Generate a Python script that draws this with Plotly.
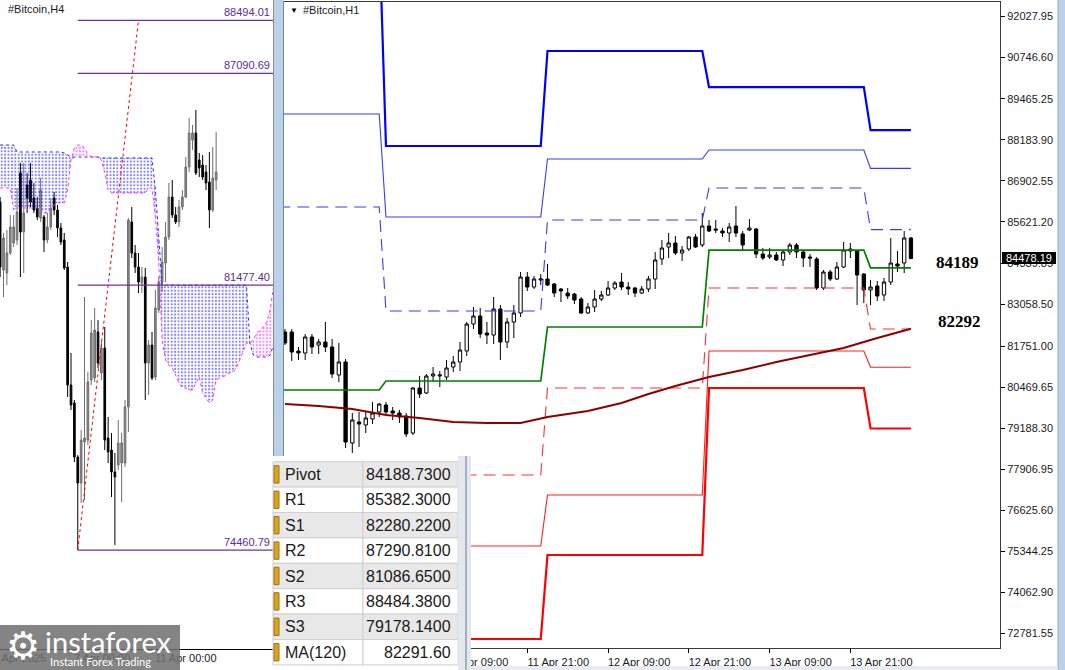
import pandas as pd
import plotly.graph_objects as go

W, H = 1065, 670


def px(x):
    return x / W


def py(y):
    return 1 - y / H


# ---------------- H4 chart (left) ----------------
h4_start = "2025-04-03 12:00"
h4_open = [83681, 81880, 81800, 82330, 82595, 82674, 84449, 82886, 84131, 84264,
           83787, 83522, 83257, 83284, 82674, 83019, 83787, 83469, 82992, 82674,
           81959, 78833, 78357, 76926, 76237, 77323, 77376, 78966, 79019, 80237,
           79151, 79813, 77429, 77111, 76529, 76714, 76767, 76767, 78251, 83151,
           82330, 81959, 81535, 81694, 79416, 79893, 79045, 80820, 81562, 82065,
           82754, 83813, 83337, 83151, 83549, 83813, 84608, 85323, 85509, 84794,
           84661, 84476, 84211, 83469, 84264]
h4_high = [83813, 82860, 82939, 83337, 83337, 84052, 84714, 84714, 84449, 84714,
           84184, 83813, 84317, 83337, 83390, 83787, 83946, 83602, 83125, 82860,
           82092, 79681, 78436, 76979, 77641, 81164, 79178, 80555, 80873, 80555,
           80025, 80370, 77986, 77562, 77032, 77906, 77562, 78436, 83257, 83549,
           82542, 82330, 81959, 81933, 80025, 80237, 81349, 81694, 82489, 83151,
           84184, 84264, 83549, 83734, 83999, 84873, 85906, 85721, 86118, 84979,
           84926, 84661, 85006, 85138, 85535]
h4_low = [81694, 81164, 81482, 82277, 82489, 82542, 81694, 81800, 83390, 83549,
          83390, 83204, 83151, 82357, 82595, 82939, 83337, 82754, 82542, 81880,
          78515, 78171, 76794, 74461, 75708, 75787, 77244, 78833, 78913, 79284,
          78966, 77111, 76767, 75866, 74595, 76582, 75734, 76661, 77588, 82198,
          81800, 81270, 81270, 78436, 78568, 78966, 78966, 80741, 81297, 81562,
          82674, 83257, 83098, 83019, 83469, 83787, 84476, 85058, 84396, 84343,
          84264, 83999, 82992, 83416, 83999]
h4_close = [81959, 82727, 82330, 83019, 83019, 83416, 82886, 83390, 83787, 83681,
            83469, 83284, 83999, 82674, 83019, 83522, 83469, 82992, 82621, 81933,
            78833, 78304, 76926, 76237, 77376, 77429, 78913, 80211, 80290, 79416,
            79813, 77376, 77059, 76529, 76396, 77297, 77297, 78251, 83204, 82330,
            81959, 81562, 81694, 79416, 79893, 79019, 80873, 81562, 82092, 82754,
            83813, 83337, 83151, 83549, 83813, 84608, 85509, 85509, 84449, 84582,
            84343, 84184, 83469, 84317, 84476]

# Ichimoku Senkou spans (shifted 26 bars ahead)
span_a = [85191, 85191, 85191, 85191, 85191,
          85006, 85006, 85006, 85006, 85006, 85006, 85006, 85006, 85006, 85006, 85006, 85006, 85006, 85006,
          84979, 84926,
          84873, 84873, 84873, 84873, 84873, 84873, 84873, 84873, 84873,
          84847, 84847, 84847, 84847, 84847, 84847, 84847, 84847, 84847, 84847, 84847, 84847, 84847, 84847, 84847, 84847,
          83999, 82595,
          81477, 81477, 81477, 81477, 81477, 81477, 81477, 81477, 81477, 81477, 81477, 81477, 81477,
          81477, 81477, 81477, 81477, 81477, 81477, 81477, 81477, 81477, 81477, 81477, 81477, 81477,
          79946, 79628, 79575, 79575, 79575, 79575, 79628, 79893]
span_b = [84052, 84052, 84052, 84052, 83469,
          83522, 83522, 83522, 83522, 83522, 83522, 83522, 83522,
          83390, 83390, 83522, 83602, 83655, 83655, 83655,
          83999, 84794, 85111, 85191, 85191, 85111, 84926, 84873, 84873, 84873,
          84794, 84449, 83999,
          83919, 83919, 83919, 83919, 83919, 83919, 83919, 83919, 83919, 83919, 83919,
          84052, 84052,
          83284, 82065, 80025, 79496, 79363, 79284, 79098, 78886, 78754, 78754,
          78701, 78701, 78886, 79045, 78621, 78489, 78357, 78436, 78966, 79019,
          79045, 79098, 79151, 79178, 79284, 79496, 79708, 79946, 79946, 80025,
          80211, 80290, 80370, 80502, 80820, 81429]

fib_levels = [88494.01, 87090.69, 81477.40, 74460.79]
fib_low_time = "2025-04-07 08:00"
fib_high_time = "2025-04-10 08:00"

h4_ticks = ["2025-04-03 00:00", "2025-04-07 00:00", "2025-04-11 00:00"]
h4_tick_text = ["3 Apr 2025", "7 Apr 00:00", "11 Apr 00:00"]

# ---------------- H1 chart (right) ----------------
h1_start = "2025-04-10 09:00"
h1_open = [82188, 82188, 81595, 81533, 82032, 81782, 81876, 81720, 80847, 81252,
           78726, 79381, 79287, 79474, 79693, 79911, 79724, 79661, 79568, 79037,
           80441, 80285, 80816, 80816, 80784, 81096, 81252, 81595, 82437, 82687,
           82157, 82094, 82905, 81876, 82500, 82781, 83903, 83591, 83810, 83841,
           83685, 83529, 83404, 83373, 83217, 82781, 82968, 83217, 83342, 83560,
           83747, 83591, 83560, 83404, 83529, 83841, 84465, 84839, 84964, 84652,
           84777, 85151, 84901, 85494, 85400, 85338, 85276, 85494, 85245, 85369,
           85400, 84621, 84527, 84590, 84434, 84683, 84901, 84683, 84527, 84465,
           83560, 84059, 83841, 84215, 84714, 84714, 83997, 83498, 83623, 83342,
           83747, 84309, 84340, 85120]
h1_high = [82281, 82281, 81720, 82126, 82126, 81970, 82500, 81970, 81845, 81346,
           79661, 79693, 79693, 80005, 79973, 80005, 79849, 79755, 79661, 80472,
           80816, 80878, 81096, 80972, 81315, 81439, 81876, 82500, 82968, 82936,
           82500, 83280, 83030, 82625, 83030, 84059, 84059, 83935, 83997, 84309,
           83716, 83560, 83560, 83404, 83280, 83092, 83498, 83467, 83779, 83779,
           84028, 83747, 83591, 83623, 83935, 84683, 85057, 85276, 85182, 84870,
           85182, 85245, 85900, 85681, 85681, 85432, 85588, 86118, 85338, 85712,
           85432, 84808, 84808, 84683, 84745, 84964, 84964, 84745, 84621, 84527,
           84122, 84122, 84371, 84995, 84964, 84745, 84028, 83810, 83779, 83872,
           85120, 84714, 85338, 85151]
h1_low = [81782, 81283, 81315, 81315, 81502, 81502, 81564, 80753, 80628, 78570,
          78414, 78601, 79037, 79318, 79537, 79599, 79443, 79350, 78913, 78975,
          80129, 80254, 80628, 80472, 80691, 80940, 80972, 81439, 82281, 82001,
          81814, 81814, 81315, 81689, 82001, 82656, 83467, 83529, 83654, 83623,
          83280, 83124, 83217, 83061, 82750, 82750, 82812, 83155, 83311, 83498,
          83498, 83342, 83280, 83373, 83436, 83529, 84278, 84496, 84590, 84402,
          84714, 84808, 84839, 85307, 85276, 85151, 84995, 85151, 84745, 85338,
          84496, 84434, 84465, 84402, 84246, 84590, 84496, 84215, 84215, 83498,
          83498, 83779, 83810, 84184, 84496, 83030, 83092, 83030, 83155, 83155,
          83654, 84059, 84028, 84496]
h1_close = [81845, 81564, 81533, 82032, 81720, 81876, 81720, 80878, 81252, 78757,
            79443, 79318, 79506, 79661, 79942, 79693, 79661, 79537, 79007, 80441,
            80254, 80816, 80878, 80847, 81065, 81252, 81626, 82437, 82687, 82126,
            82094, 82905, 81876, 82500, 82781, 83903, 83591, 83841, 83841, 83654,
            83404, 83467, 83311, 83186, 82781, 82968, 83217, 83342, 83560, 83716,
            83591, 83529, 83404, 83529, 83841, 84434, 84808, 84964, 84652, 84745,
            85151, 84839, 85494, 85338, 85369, 85276, 85463, 85276, 84901, 85432,
            84621, 84496, 84590, 84434, 84683, 84901, 84683, 84496, 84496, 83560,
            84059, 83841, 84215, 84745, 84777, 83966, 83498, 83591, 83311, 83747,
            84340, 84246, 85120, 84478.19]

# daily pivot levels
pivot_days = ["2025-04-10", "2025-04-11", "2025-04-12", "2025-04-13", "2025-04-14"]
lvl_R3 = [94695, 87990, 90953, 89829, 88484.38]
lvl_R2 = [88988, 85775, 87584, 87864, 87290.81]
lvl_R1 = [86087, 82843, 85681, 86679, 85382.30]
lvl_PP = [80379, 80660, 82344, 84745, 84188.73]
lvl_S1 = [77479, 77728, 80441, 83560, 82280.22]
lvl_S2 = [71771, 75513, 77104, 81595, 81086.65]
lvl_S3 = [68871, 72612, 75232, 80441, 79178.14]

# MA(120) read at several hours
ma_times = ["2025-04-10 09:00", "2025-04-10 14:00", "2025-04-10 19:00", "2025-04-11 00:00",
            "2025-04-11 05:00", "2025-04-11 10:00", "2025-04-11 15:00", "2025-04-11 20:00",
            "2025-04-12 00:00", "2025-04-12 06:00", "2025-04-12 11:00", "2025-04-12 15:00",
            "2025-04-12 19:00", "2025-04-13 00:00", "2025-04-13 05:00", "2025-04-13 10:00",
            "2025-04-13 15:00", "2025-04-13 20:00", "2025-04-14 01:00", "2025-04-14 06:00"]
ma_vals = [79942, 79880, 79786, 79599, 79506, 79381, 79350, 79350, 79537, 79724,
           79973, 80254, 80504, 80785, 81003, 81252, 81471, 81689, 82001, 82291.60]

h1_price_ticks = [92027.95, 90746.60, 89465.25, 88183.90, 86902.55, 85621.20, 84339.85,
                  83058.50, 81751.00, 80469.65, 79188.30, 77906.95, 76625.60, 75344.25,
                  74062.90, 72781.55]
h1_time_ticks = ["2025-04-10 09:00", "2025-04-10 21:00", "2025-04-11 09:00", "2025-04-11 21:00",
                 "2025-04-12 09:00", "2025-04-12 21:00", "2025-04-13 09:00", "2025-04-13 21:00"]
h1_time_text = ["10 Apr 09:00", "10 Apr 21:00", "11 Apr 09:00", "11 Apr 21:00",
                "12 Apr 09:00", "12 Apr 21:00", "13 Apr 09:00", "13 Apr 21:00"]

table_labels = ["Pivot", "R1", "S1", "R2", "S2", "R3", "S3", "MA(120)"]
table_values = [f"{lvl_PP[-1]:.4f}", f"{lvl_R1[-1]:.4f}", f"{lvl_S1[-1]:.4f}",
                f"{lvl_R2[-1]:.4f}", f"{lvl_S2[-1]:.4f}", f"{lvl_R3[-1]:.4f}",
                f"{lvl_S3[-1]:.4f}", f"{ma_vals[-1]:.2f}"]

# ---------------- build ----------------
h4_times = pd.date_range(h4_start, periods=len(h4_open), freq="4h")
cloud_times = pd.date_range(h4_start, periods=len(span_a), freq="4h")
h1_times = pd.date_range(h1_start, periods=len(h1_open), freq="h")

fig = go.Figure()

# Ichimoku cloud
cloud_low = [min(a, b) for a, b in zip(span_a, span_b)]
for upper, col in ((span_a, "#0000ff"), (span_b, "#ff00ff")):
    fig.add_trace(go.Scatter(x=cloud_times, y=cloud_low, mode="lines", line=dict(width=0),
                             xaxis="x", yaxis="y", hoverinfo="skip", showlegend=False))
    fig.add_trace(go.Scatter(x=cloud_times, y=upper, mode="lines", line=dict(width=0),
                             fill="tonexty", fillcolor="rgba(0,0,0,0)",
                             fillpattern=dict(shape=".", fgcolor=col, bgcolor="rgba(0,0,0,0)",
                                              size=3.4, solidity=0.3),
                             xaxis="x", yaxis="y", hoverinfo="skip", showlegend=False))
fig.add_trace(go.Scatter(x=cloud_times, y=span_a, mode="lines",
                         line=dict(color="#2a2aff", width=1, dash="dot"),
                         xaxis="x", yaxis="y", showlegend=False))
fig.add_trace(go.Scatter(x=cloud_times, y=span_b, mode="lines",
                         line=dict(color="#ff33ff", width=1, dash="dot"),
                         xaxis="x", yaxis="y", showlegend=False))

# H4 candles
fig.add_trace(go.Candlestick(
    x=h4_times, open=h4_open, high=h4_high, low=h4_low, close=h4_close,
    xaxis="x", yaxis="y", whiskerwidth=0,
    increasing=dict(fillcolor="#8c8c8c", line=dict(color="#6e6e6e", width=1)),
    decreasing=dict(fillcolor="#000000", line=dict(color="#000000", width=1)),
    showlegend=False))

# Fibonacci
for lv in fib_levels:
    fig.add_trace(go.Scatter(x=[fib_low_time, "2025-04-20 00:00"], y=[lv, lv], mode="lines",
                             line=dict(color="#7030a0", width=1.3),
                             xaxis="x", yaxis="y", showlegend=False))
fig.add_trace(go.Scatter(x=[fib_low_time, fib_high_time], y=[fib_levels[-1], fib_levels[0]],
                         mode="lines", line=dict(color="#ff0000", width=1, dash="dot"),
                         xaxis="x", yaxis="y", showlegend=False))

# H1 candles
fig.add_trace(go.Candlestick(
    x=h1_times, open=h1_open, high=h1_high, low=h1_low, close=h1_close,
    xaxis="x2", yaxis="y2", whiskerwidth=0,
    increasing=dict(fillcolor="#ffffff", line=dict(color="#000000", width=1)),
    decreasing=dict(fillcolor="#000000", line=dict(color="#000000", width=1)),
    showlegend=False))

# pivot lines (hourly values from the daily levels)
hours = pd.date_range("2025-04-10 08:00", h1_times[-1], freq="h")
day_index = {pd.Timestamp(d): i for i, d in enumerate(pivot_days)}


def daily(levels):
    return [levels[day_index[h.normalize()]] for h in hours]


pivot_styles = [
    (lvl_R3, "#0000ff", 2.2, "solid"),
    (lvl_R2, "#3a3aff", 1.1, "solid"),
    (lvl_R1, "#3a3aff", 1.1, "12px,7px"),
    (lvl_PP, "#008000", 1.7, "solid"),
    (lvl_S1, "#ff3030", 1.1, "12px,7px"),
    (lvl_S2, "#ff2020", 1.1, "solid"),
    (lvl_S3, "#ff0000", 2.2, "solid"),
]
for lv, col, wd, dash in pivot_styles:
    fig.add_trace(go.Scatter(x=hours, y=daily(lv), mode="lines",
                             line=dict(color=col, width=wd, dash=dash),
                             xaxis="x2", yaxis="y2", showlegend=False))

fig.add_trace(go.Scatter(x=pd.to_datetime(ma_times), y=ma_vals, mode="lines",
                         line=dict(color="#8b0000", width=2),
                         xaxis="x2", yaxis="y2", showlegend=False))

axis_font = dict(family="Liberation Sans", size=11, color="#1a1a1a")

fig.update_layout(
    width=W, height=H, margin=dict(l=0, r=0, t=0, b=0),
    paper_bgcolor="white", plot_bgcolor="white", showlegend=False,
    xaxis=dict(domain=[0, px(273)], type="date",
               range=["2025-04-03 11:50", "2025-04-16 23:24"],
               showgrid=False, zeroline=False, showline=True, linecolor="#000", linewidth=1,
               ticks="outside", ticklen=4, tickcolor="#000", tickvals=h4_ticks,
               showticklabels=False, rangeslider=dict(visible=False), fixedrange=True),
    yaxis=dict(domain=[21 / H, 1], range=[71840, 89032], side="right",
               showgrid=False, zeroline=False, showline=True, linecolor="#8a8a8a",
               showticklabels=False, ticks="", fixedrange=True),
    xaxis2=dict(domain=[px(284), px(1000)], type="date", anchor="y2",
                range=["2025-04-10 08:51", "2025-04-14 19:14"],
                showgrid=False, zeroline=False, showline=True, mirror=True,
                linecolor="#3a3a3a", linewidth=1,
                ticks="outside", ticklen=4, tickcolor="#000",
                tickvals=h1_time_ticks, ticktext=h1_time_text, ticklabelshift=31,
                tickfont=axis_font, rangeslider=dict(visible=False), fixedrange=True),
    yaxis2=dict(domain=[22 / H, 668 / H], anchor="x2", side="right",
                range=[72332, 92481], showgrid=False, zeroline=False,
                showline=True, mirror=True, linecolor="#3a3a3a", linewidth=1,
                ticks="outside", ticklen=4, tickcolor="#000",
                tickvals=h1_price_ticks, ticktext=[f"{v:.2f}" for v in h1_price_ticks],
                tickfont=axis_font, fixedrange=True),
)

shapes = []
ann = []


def rect(x0, y0, x1, y1, fill, line=None, lw=0):
    shapes.append(dict(type="rect", xref="paper", yref="paper", layer="above",
                       x0=px(x0), x1=px(x1), y0=py(y1), y1=py(y0), fillcolor=fill,
                       line=dict(color=line or fill, width=lw)))


def text(x, y, s, size=11, color="#1a1a1a", xanchor="left", family="Liberation Sans",
         bold=False, yref="paper", yshift=0, yanchor="middle"):
    ann.append(dict(x=px(x), y=(py(y) if yref == "paper" else y), xref="paper", yref=yref,
                    text=(f"<b>{s}</b>" if bold else s), showarrow=False,
                    xanchor=xanchor, yanchor=yanchor, yshift=yshift,
                    font=dict(family=family, size=size, color=color)))


# window strips
rect(274, 0, 283.5, 458, "#b9d1ea")
rect(1058, 0, 1065, 670, "#b9d1ea")
shapes.append(dict(type="line", xref="paper", yref="paper", layer="above",
                   x0=px(1058), x1=px(1058), y0=0, y1=1, line=dict(color="#9aa6b5", width=1)))
rect(470, 666, 1058, 670, "#e8ecf2")

# current price box
rect(1002, 252, 1056, 264, "#000000")
text(1029, 258, f"{h1_close[-1]:.2f}", size=11, color="#ffffff", xanchor="center")

# table
rect(273, 456, 471, 670, "#ffffff")
row_h = 25.4
top = 461.7
for i, (lab, val) in enumerate(zip(table_labels, table_values)):
    y0 = top + i * row_h
    fill = "#e8e8e8" if i % 2 == 0 else "#ffffff"
    rect(273, y0, 363, y0 + row_h, fill, "#cfcfcf", 1)
    rect(363, y0, 458, y0 + row_h, fill, "#cfcfcf", 1)
    rect(274, y0 + 4, 279, y0 + row_h - 4, "#d9a521", "#9c7412", 1)
    text(283, y0 + row_h / 2, lab, size=16, color="#1a1a1a")
    text(453, y0 + row_h / 2, val, size=16, color="#1a1a1a", xanchor="right")
rect(458, 456, 471, 670, "#e4e7ec")
shapes.append(dict(type="line", xref="paper", yref="paper", layer="above",
                   x0=px(466), x1=px(466), y0=0, y1=py(456),
                   line=dict(color="#a3b0c2", width=2)))

# titles
text(6, 9, "#Bitcoin,H4", size=11)
text(288, 10, "▼", size=8, color="#000")
text(301, 10, "#Bitcoin,H1", size=11)

# fib labels
for lv in fib_levels:
    text(272, lv, f"{lv:.2f}", size=11, color="#5b2c8f", xanchor="right", yref="y",
         yanchor="bottom", yshift=0)

# right-side level labels
ann.append(dict(x=px(957), y=lvl_PP[-1], xref="paper", yref="y2", text=f"<b>{lvl_PP[-1]:.0f}</b>",
                showarrow=False, xanchor="center", yanchor="middle", yshift=5,
                font=dict(family="Liberation Serif", size=17, color="#000")))
ann.append(dict(x=px(959), y=ma_vals[-1], xref="paper", yref="y2", text=f"<b>{ma_vals[-1]:.0f}</b>",
                showarrow=False, xanchor="center", yanchor="middle", yshift=7,
                font=dict(family="Liberation Serif", size=17, color="#000")))

# H4 time labels (under logo)
h4_label_x = [-10, 71, 152]
for xx, s in zip(h4_label_x, h4_tick_text):
    text(xx + 1, 658, s, size=11)

# logo
ann.append(dict(x=0, y=py(625), xref="paper", yref="paper", xanchor="left", yanchor="top",
                text=" ", showarrow=False, width=180, height=45, borderpad=0, borderwidth=0,
                bgcolor="rgba(112,112,112,0.86)"))
text(23, 646, "⚙", size=38, color="#ffffff", xanchor="center", family="DejaVu Sans")
text(43, 641, "instaforex", size=29, color="#ffffff", family="Lato")
text(48, 661, "Instant Forex Trading", size=11, color="#ffffff", family="Lato")

fig.update_layout(shapes=shapes, annotations=ann)
fig.write_html("out.html", config={"displayModeBar": False},
               post_script="document.body.style.margin='0px';document.body.style.overflow='hidden';")
